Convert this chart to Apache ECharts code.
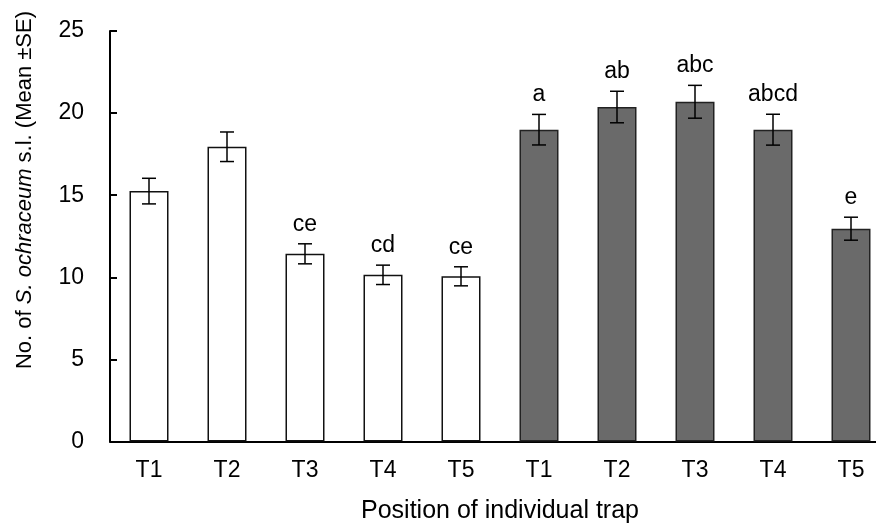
<!DOCTYPE html>
<html>
<head>
<meta charset="utf-8">
<script src="https://cdn.jsdelivr.net/npm/echarts@6/dist/echarts.min.js"></script>
<style>html,body{margin:0;padding:0;background:#fff}#c{width:876px;height:524px}</style>
</head>
<body>
<div id="c"></div>
<script>
// Data
const categories = ['T1','T2','T3','T4','T5','T1','T2','T3','T4','T5'];
const groups = ['A','A','A','A','A','B','B','B','B','B'];
const means = [15.25, 17.95, 11.43, 10.15, 10.06, 18.99, 20.37, 20.69, 18.99, 12.96];
const errors = [0.78, 0.9, 0.61, 0.59, 0.58, 0.93, 0.96, 1.0, 0.94, 0.7];
const letters = ['', '', 'ce', 'cd', 'ce', 'a', 'ab', 'abc', 'abcd', 'e'];
const yTicks = [0, 5, 10, 15, 20, 25];

const FONT = 'Liberation Sans, Arial, sans-serif';
const chart = echarts.init(document.getElementById('c'), null, {renderer: 'canvas'});

const barData = means.map((v, i) => ({
  value: v,
  itemStyle: groups[i] === 'A'
    ? {color: '#ffffff', borderColor: '#111', borderWidth: 1.5}
    : {color: '#6a6a6a', borderColor: '#222', borderWidth: 1.5}
}));
const errData = means.map((v, i) => [i, v, errors[i]]);

chart.setOption({
  animation: false,
  backgroundColor: '#fff',
  grid: {left: 110, top: 31, width: 780, height: 410.5, containLabel: false, outerBoundsMode: 'none'},
  xAxis: {
    type: 'category',
    data: categories,
    name: 'Position of individual trap',
    nameLocation: 'middle',
    nameGap: 57,
    nameTextStyle: {fontFamily: FONT, fontSize: 25, color: '#000'},
    axisLine: {lineStyle: {color: '#000', width: 2}},
    axisTick: {show: false},
    axisLabel: {fontFamily: FONT, fontSize: 23, color: '#000', margin: 18, interval: 0},
    splitLine: {show: false}
  },
  yAxis: {
    type: 'value',
    min: yTicks[0],
    max: yTicks[yTicks.length - 1],
    interval: 5,
    axisLine: {show: true, lineStyle: {color: '#000', width: 2}},
    axisTick: {show: true, inside: true, length: 7, lineStyle: {color: '#000', width: 2}},
    axisLabel: {fontFamily: FONT, fontSize: 23, color: '#000', margin: 26},
    splitLine: {show: false}
  },
  graphic: [{
    type: 'text',
    x: 25,
    y: 190,
    rotation: Math.PI / 2,
    style: {
      text: '{n|No. of }{i|S. ochraceum}{n| s.l. (Mean ±SE)}',
      align: 'center',
      verticalAlign: 'middle',
      rich: {
        n: {fontFamily: FONT, fontSize: 22, fill: '#000', color: '#000'},
        i: {fontFamily: FONT, fontSize: 22, fontStyle: 'italic', fill: '#000', color: '#000'}
      }
    }
  }],
  series: [
    {
      type: 'bar',
      data: barData,
      barWidth: '50%',
      z: 2
    },
    {
      type: 'custom',
      data: errData,
      z: 5,
      renderItem: function (params, api) {
        const i = api.value(0), m = api.value(1), e = api.value(2);
        const top = api.coord([i, m + e]);
        const bot = api.coord([i, m - e]);
        const cap = 7;
        const ls = {stroke: '#000', lineWidth: 1.5};
        const children = [
          {type: 'line', shape: {x1: top[0], y1: top[1], x2: bot[0], y2: bot[1]}, style: ls},
          {type: 'line', shape: {x1: top[0] - cap, y1: top[1], x2: top[0] + cap, y2: top[1]}, style: ls},
          {type: 'line', shape: {x1: bot[0] - cap, y1: bot[1], x2: bot[0] + cap, y2: bot[1]}, style: ls}
        ];
        const lab = letters[params.dataIndex];
        if (lab) {
          children.push({
            type: 'text',
            x: top[0],
            y: top[1] - 8,
            style: {text: lab, fontFamily: FONT, fontSize: 23, fill: '#000', align: 'center', verticalAlign: 'bottom'}
          });
        }
        return {type: 'group', children: children};
      }
    }
  ]
});
</script>
</body>
</html>
